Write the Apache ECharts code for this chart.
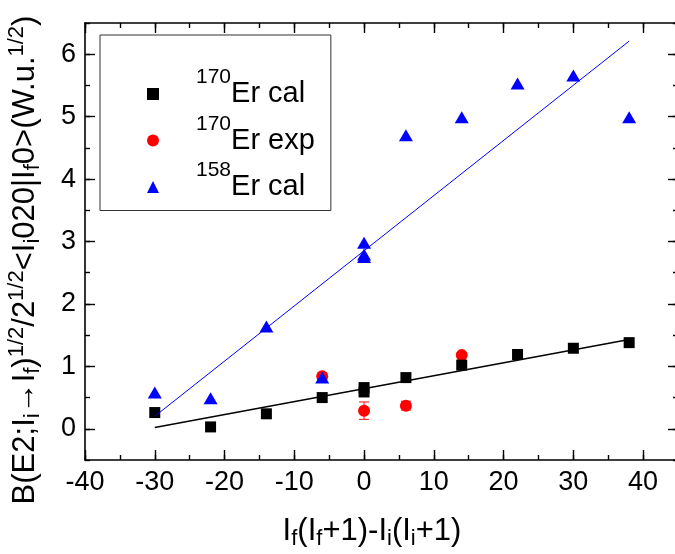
<!DOCTYPE html>
<html>
<head>
<meta charset="utf-8">
<script src="https://cdn.jsdelivr.net/npm/echarts@6/dist/echarts.min.js"></script>
<style>html,body{margin:0;padding:0;background:#fff}#c{width:675px;height:554px}</style>
</head>
<body>
<div id="c"></div>
<script>
// ---- data ----
const xTicks = [-40, -30, -20, -10, 0, 10, 20, 30, 40];
const yTicks = [0, 1, 2, 3, 4, 5, 6];
const cal170X = [-30, -22, -14, -6, 0, 0, 6, 14, 22, 30, 38];
const cal170Y = [0.26, 0.03, 0.24, 0.50, 0.66, 0.59, 0.82, 1.02, 1.19, 1.29, 1.38];
const exp170X = [-6, 0, 6, 14];
const exp170Y = [0.84, 0.29, 0.37, 1.18];
const exp170Err = [0.05, 0.14, 0.07, 0.04];
const cal158X = [-30, -22, -14, -6, 0, 0, 0, 6, 14, 22, 30, 38];
const cal158Y = [0.58, 0.49, 1.64, 0.82, 2.98, 2.79, 2.75, 4.70, 4.99, 5.53, 5.66, 4.99];
const fitX = [-30, 38];
const fit170Y = [0.02, 1.43];
const fit158Y = [0.20, 6.21];
const seriesIso = ['170', '170', '158'];
const seriesLbl = ['Er cal', 'Er exp', 'Er cal'];

const FONT = 'Liberation Sans, Arial, sans-serif';
const names = seriesIso.map((s, i) => s + seriesLbl[i]);
const zip = (a, b, c) => a.map((v, i) => c ? [v, b[i], c[i]] : [v, b[i]]);

const chart = echarts.init(document.getElementById('c'), null, {renderer: 'canvas'});

function xAxisDef(pos, major) {
  return {
    type: 'value', position: pos, min: -40, max: 45, interval: 5,
    axisLine: {show: major, onZero: false, lineStyle: {color: '#000', width: 1.6}},
    axisTick: Object.assign({show: true, inside: true, length: major ? 10 : 5, lineStyle: {color: '#000', width: 1.4}},
      major ? {customValues: xTicks} : {}),
    axisLabel: (major && pos === 'bottom') ? {show: true, customValues: xTicks, fontSize: 27, color: '#000', fontFamily: FONT, margin: 9} : {show: false},
    splitLine: {show: false}
  };
}
function yAxisDef(pos, major) {
  return {
    type: 'value', position: pos, min: -0.5, max: 6.5, interval: 0.5,
    axisLine: {show: major, onZero: false, lineStyle: {color: '#000', width: 1.6}},
    axisTick: Object.assign({show: true, inside: true, length: major ? 10 : 5, lineStyle: {color: '#000', width: 1.4}},
      major ? {customValues: yTicks} : {}),
    axisLabel: (major && pos === 'left') ? {show: true, customValues: yTicks, fontSize: 27, color: '#000', fontFamily: FONT, margin: 9} : {show: false},
    splitLine: {show: false}
  };
}

const rich = {
  n: {fontSize: 31, fontFamily: FONT, color: '#000', lineHeight: 38},
  sub: {fontSize: 22, fontFamily: FONT, color: '#000', lineHeight: 22, verticalAlign: 'bottom'},
  sup: {fontSize: 22, fontFamily: FONT, color: '#000', lineHeight: 20, verticalAlign: 'top'}
};

const option = {
  animation: false,
  backgroundColor: '#fff',
  grid: {left: 85, right: -3, top: 23, bottom: 94, outerBoundsMode: 'none', containLabel: false},
  xAxis: [xAxisDef('bottom', true), xAxisDef('bottom', false), xAxisDef('top', true), xAxisDef('top', false)],
  yAxis: [yAxisDef('left', true), yAxisDef('left', false), yAxisDef('right', true), yAxisDef('right', false)],
  legend: {
    orient: 'vertical', left: 100, top: 35,
    padding: [32, 16, 9, 47],
    itemGap: 5, itemWidth: 12, itemHeight: 12,
    borderColor: '#333', borderWidth: 1,
    data: names,
    formatter: n => '{sp| }{sup|' + n.slice(0, 3) + '}{n|' + n.slice(3) + '}',
    textStyle: {rich: {
      sp: {width: 32, fontSize: 10, lineHeight: 54},
      n: {fontSize: 29, fontFamily: FONT, color: '#000', lineHeight: 36},
      sup: {fontSize: 21, fontFamily: FONT, color: '#000', lineHeight: 4, verticalAlign: 'top'}
    }}
  },
  series: [
    {
      type: 'custom', name: 'err', xAxisIndex: 0, yAxisIndex: 0, z: 2,
      data: zip(exp170X, exp170Y, exp170Err),
      renderItem: (params, api) => {
        const x = api.value(0), y = api.value(1), e = api.value(2);
        const t = api.coord([x, y + e]), b = api.coord([x, y - e]);
        const hw = 5, st = {stroke: '#ff3030', lineWidth: 1.2};
        return {type: 'group', children: [
          {type: 'line', shape: {x1: t[0], y1: t[1], x2: b[0], y2: b[1]}, style: st},
          {type: 'line', shape: {x1: t[0] - hw, y1: t[1], x2: t[0] + hw, y2: t[1]}, style: st},
          {type: 'line', shape: {x1: b[0] - hw, y1: b[1], x2: b[0] + hw, y2: b[1]}, style: st}
        ]};
      }
    },
    {
      type: 'scatter', name: names[1], xAxisIndex: 0, yAxisIndex: 0, z: 3,
      symbol: 'circle', symbolSize: 12, itemStyle: {color: '#ff0000', opacity: 1},
      data: zip(exp170X, exp170Y)
    },
    {
      type: 'scatter', name: names[0], xAxisIndex: 0, yAxisIndex: 0, z: 4,
      symbol: 'rect', symbolSize: 11, itemStyle: {color: '#000', opacity: 1},
      data: zip(cal170X, cal170Y)
    },
    {
      type: 'scatter', name: names[2], xAxisIndex: 0, yAxisIndex: 0, z: 5,
      symbol: 'triangle', symbolSize: [14, 12], itemStyle: {color: '#0000ff', opacity: 1},
      data: zip(cal158X, cal158Y)
    },
    {
      type: 'line', name: 'fit170', xAxisIndex: 0, yAxisIndex: 0, z: 6,
      showSymbol: false, symbol: 'none', lineStyle: {color: '#000', width: 1.4},
      data: zip(fitX, fit170Y)
    },
    {
      type: 'line', name: 'fit158', xAxisIndex: 0, yAxisIndex: 0, z: 6,
      showSymbol: false, symbol: 'none', lineStyle: {color: '#0000ff', width: 1},
      data: zip(fitX, fit158Y)
    }
  ],
  graphic: [
    {
      type: 'text', x: 372, y: 531,
      style: {
        text: '{n|I}{sub|f}{n|(I}{sub|f}{n|+1)-I}{sub|i}{n|(I}{sub|i}{n|+1)}',
        rich: rich, align: 'center', verticalAlign: 'middle'
      }
    },
    {
      type: 'text', x: 25, y: 260, rotation: Math.PI / 2,
      style: {
        text: '{n|B(E2;I}{sub|i}{n|→I}{sub|f}{n|)}{sup|1/2}{n|/2}{sup|1/2}{n|<I}{sub|i}{n|020|I}{sub|f}{n|0>(W.u.}{sup|1/2}{n|)}',
        rich: rich, align: 'center', verticalAlign: 'middle'
      }
    }
  ]
};
chart.setOption(option);
</script>
</body>
</html>
